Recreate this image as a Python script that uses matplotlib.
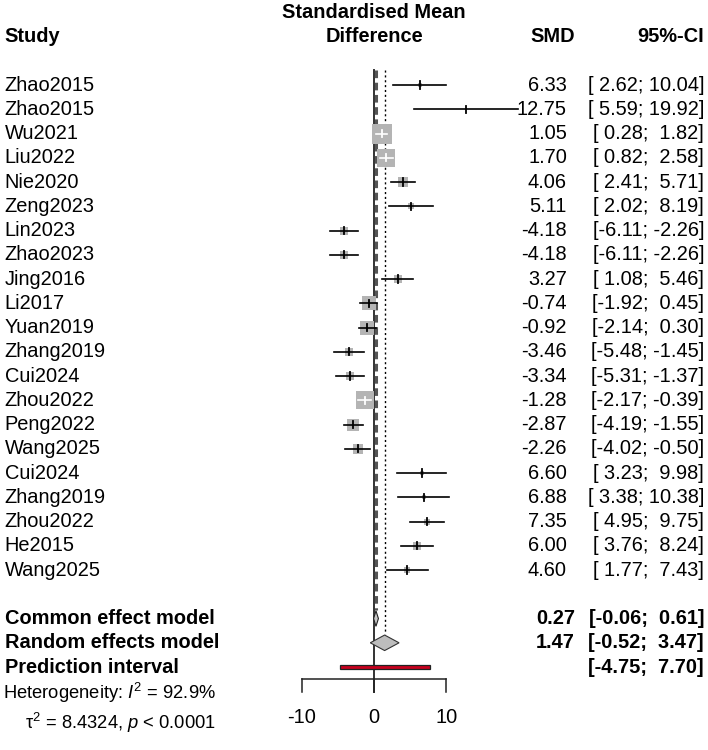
import numpy as np
import matplotlib.pyplot as plt
from matplotlib import transforms

plt.rcParams['font.family'] = ['Liberation Sans', 'DejaVu Sans']
plt.rcParams['mathtext.fontset'] = 'custom'
plt.rcParams['mathtext.rm'] = 'Liberation Sans'
plt.rcParams['mathtext.it'] = 'Liberation Sans:italic'

# study level data
studies = ["Zhao2015", "Zhao2015", "Wu2021", "Liu2022", "Nie2020", "Zeng2023", "Lin2023",
           "Zhao2023", "Jing2016", "Li2017", "Yuan2019", "Zhang2019", "Cui2024", "Zhou2022",
           "Peng2022", "Wang2025", "Cui2024", "Zhang2019", "Zhou2022", "He2015", "Wang2025"]
smd   = [6.33, 12.75, 1.05, 1.70, 4.06, 5.11, -4.18, -4.18, 3.27, -0.74, -0.92,
         -3.46, -3.34, -1.28, -2.87, -2.26, 6.60, 6.88, 7.35, 6.00, 4.60]
lower = [2.62, 5.59, 0.28, 0.82, 2.41, 2.02, -6.11, -6.11, 1.08, -1.92, -2.14,
         -5.48, -5.31, -2.17, -4.19, -4.02, 3.23, 3.38, 4.95, 3.76, 1.77]
upper = [10.04, 19.92, 1.82, 2.58, 5.71, 8.19, -2.26, -2.26, 5.46, 0.45, 0.30,
         -1.45, -1.37, -0.39, -1.55, -0.50, 9.98, 10.38, 9.75, 8.24, 7.43]

# pooled estimates
common_est, common_lo, common_hi = 0.27, -0.06, 0.61
random_est, random_lo, random_hi = 1.47, -0.52, 3.47
pred_lo, pred_hi = -4.75, 7.70
x_ticks = [-10, 0, 10]
het_line1 = "Heterogeneity: $I^2$ = 92.9%"
het_line2 = "τ$^2$ = 8.4324, $p$ < 0.0001"

def ci_text(lo, hi):
    return "[{:5.2f}; {:5.2f}]".format(lo, hi)

fig = plt.figure(figsize=(7.08, 7.5), dpi=100, facecolor='white')
ax = fig.add_axes([0, 0, 1, 1])
ax.set_xlim(-51.84, 46.29)
ax.set_ylim(27.42, -3.505)
ax.axis('off')
tr = transforms.blended_transform_factory(ax.transAxes, ax.transData)

n = len(studies)
rows = np.arange(n)
r_common, r_random, r_pred = n + 1, n + 2, n + 3
r_axis = r_pred + 0.5

fs = 14.4
gray = '#b4b4b4'

# header
ax.text(0.0064, -2, "Study", transform=tr, fontsize=fs, fontweight='bold', va='center', ha='left')
ax.text(0, -3, "Standardised Mean", fontsize=fs, fontweight='bold', va='center', ha='center')
ax.text(0, -2, "Difference", fontsize=fs, fontweight='bold', va='center', ha='center')
ax.text(0.812, -2, "SMD", transform=tr, fontsize=fs, fontweight='bold', va='center', ha='right')
ax.text(0.9944, -2, "95%-CI", transform=tr, fontsize=fs, fontweight='bold', va='center', ha='right')

# reference lines
ax.plot([0, 0], [-0.6, r_axis + 0.53], color='#333333', lw=1.4, zorder=1)
ax.plot([common_est, common_est], [-0.6, r_common - 0.35], color='#555555', lw=2.2,
        ls=(0, (2.5, 1.5)), zorder=1)
ax.plot([random_est, random_est], [-0.6, r_random - 0.35], color='black', lw=1.0,
        ls=(0, (1.5, 2)), zorder=1)

# squares sized by inverse-variance weight
smd_a, lo_a, hi_a = np.array(smd), np.array(lower), np.array(upper)
se = (hi_a - lo_a) / (2 * 1.96)
w = 1 / se ** 2
side_px = 20.7 * np.sqrt(w / w.max())
px_per_unit = ax.transData.transform((1, 0))[0] - ax.transData.transform((0, 0))[0]

for i in range(n):
    ax.plot(smd[i], rows[i], marker='s', markersize=side_px[i] * 0.72, color=gray,
            markeredgewidth=0, zorder=2)
    inside = (hi_a[i] - lo_a[i]) * px_per_unit < side_px[i]
    col = 'white' if inside else 'black'
    ax.plot([lower[i], upper[i]], [rows[i], rows[i]], color=col, lw=1.2, zorder=3)
    ax.plot([smd[i], smd[i]], [rows[i] - 0.15, rows[i] + 0.15], color=col, lw=1.3, zorder=3)
    ax.text(0.0064, rows[i], studies[i], transform=tr, fontsize=fs, va='center', ha='left')
    ax.text(0.8008, rows[i], "%.2f" % smd[i], transform=tr, fontsize=fs, va='center', ha='right')
    ax.text(0.9944, rows[i], ci_text(lower[i], upper[i]), transform=tr, fontsize=fs,
            va='center', ha='right')

# diamonds
h = 0.32
ax.fill([common_lo, common_est, common_hi, common_est],
        [r_common, r_common - h, r_common, r_common + h],
        facecolor='#c8c8c8', edgecolor='#222222', lw=0.8, zorder=4)
ax.fill([random_lo, random_est, random_hi, random_est],
        [r_random, r_random - h, r_random, r_random + h],
        facecolor='#bdbdbd', edgecolor='#333333', lw=0.8, zorder=4)
# prediction interval
ax.fill([pred_lo, pred_hi, pred_hi, pred_lo],
        [r_pred - 0.09, r_pred - 0.09, r_pred + 0.09, r_pred + 0.09],
        facecolor='#c8001e', edgecolor='#222222', lw=0.9, zorder=4)

summary_labels = ["Common effect model", "Random effects model", "Prediction interval"]
for lab, r in zip(summary_labels, [r_common, r_random, r_pred]):
    ax.text(0.0064, r, lab, transform=tr, fontsize=fs, fontweight='bold', va='center', ha='left')
ax.text(0.812, r_common, "%.2f" % common_est, transform=tr, fontsize=fs, fontweight='bold',
        va='center', ha='right')
ax.text(0.9944, r_common, ci_text(common_lo, common_hi), transform=tr, fontsize=fs,
        fontweight='bold', va='center', ha='right')
ax.text(0.812, r_random, "%.2f" % random_est, transform=tr, fontsize=fs, fontweight='bold',
        va='center', ha='right')
ax.text(0.9944, r_random, ci_text(random_lo, random_hi), transform=tr, fontsize=fs,
        fontweight='bold', va='center', ha='right')
ax.text(0.9944, r_pred, ci_text(pred_lo, pred_hi), transform=tr, fontsize=fs,
        fontweight='bold', va='center', ha='right')

# heterogeneity
ax.text(0.305, r_pred + 1.07, het_line1, transform=tr, fontsize=13.2, va='center', ha='right')
ax.text(0.305, r_pred + 2.3, het_line2, transform=tr, fontsize=13.2, va='center', ha='right')

# x axis bracket
ax.plot([min(x_ticks), max(x_ticks)], [r_axis, r_axis], color='#222222', lw=1.1)
for t in x_ticks:
    ax.plot([t, t], [r_axis, r_axis + 0.53], color='#222222', lw=1.1)
    ax.text(t, r_axis + 1.56, str(t), fontsize=fs, va='center', ha='center')

fig.savefig('out.png', dpi=100, facecolor='white')
